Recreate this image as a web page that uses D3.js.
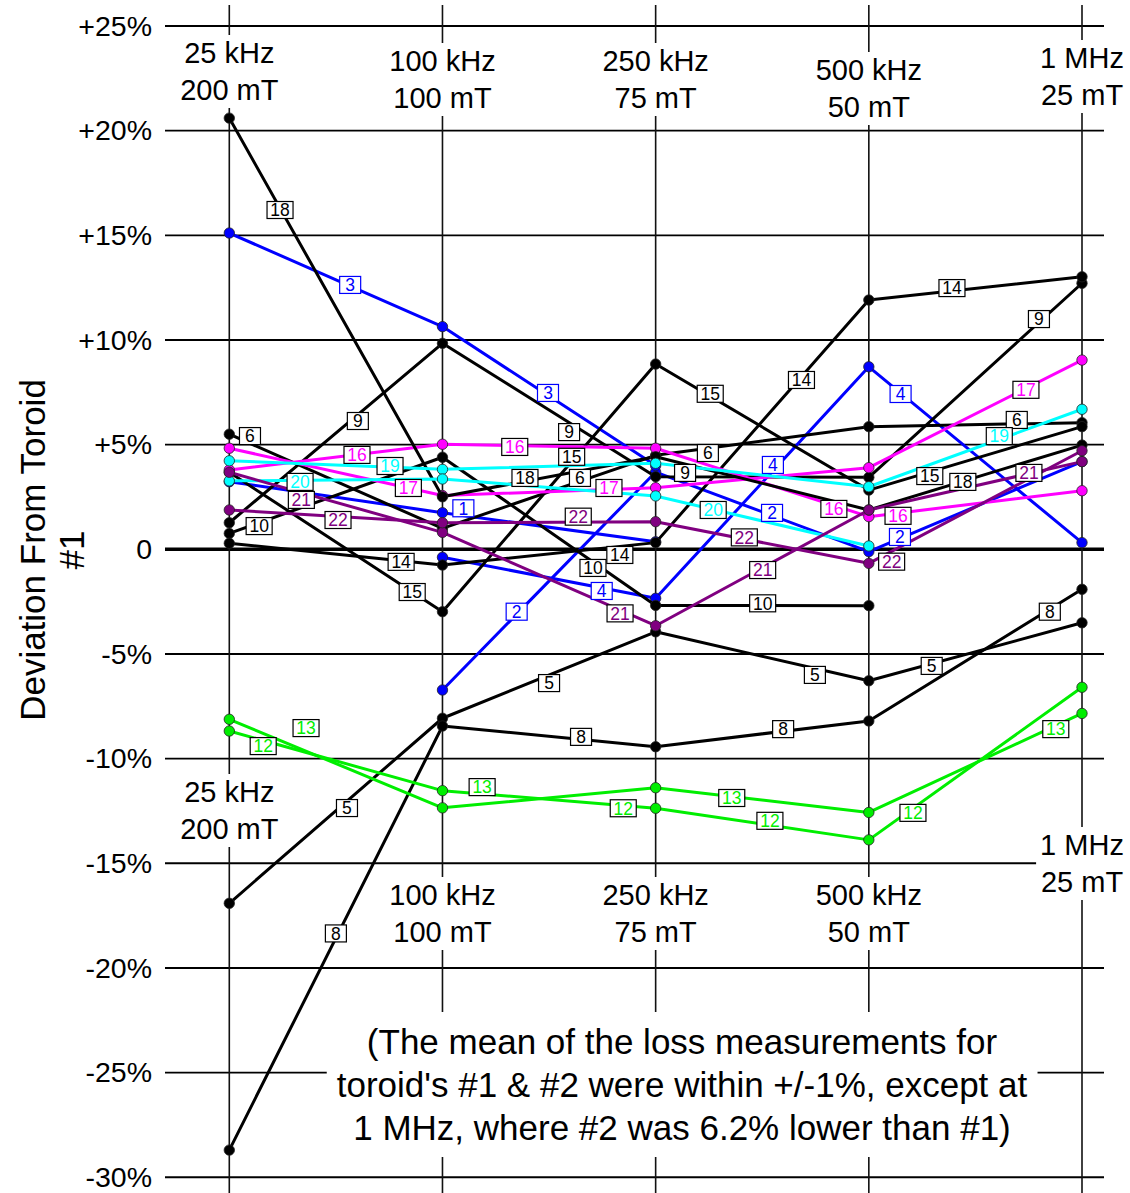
<!DOCTYPE html>
<html><head><meta charset="utf-8">
<script src="https://cdn.jsdelivr.net/npm/d3@7"></script>
<style>
body{margin:0;background:#fff}
svg{display:block}
text{font-family:"Liberation Sans",Arial,Helvetica,sans-serif}
</style>
</head><body>
<svg id="chart" width="1130" height="1193"></svg>
<script>
// ---------------- DATA ----------------
const categories = [["25 kHz","200 mT"],["100 kHz","100 mT"],["250 kHz","75 mT"],["500 kHz","50 mT"],["1 MHz","25 mT"]];
const yTickValues = [25,20,15,10,5,0,-5,-10,-15,-20,-25,-30];
const yTickLabels = ["+25%","+20%","+15%","+10%","+5%","0","-5%","-10%","-15%","-20%","-25%","-30%"];
const seriesIds = [1,2,3,4,5,6,8,9,10,12,13,14,15,16,17,18,19,20,21,22];

// deviation (%) at each of the 5 test points; null = not measured
const s1  = [3.23, 1.75, 0.36, null, null];
const s2  = [null, -6.72, 3.69, -0.11, 4.19];
const s3  = [15.11, 10.64, 4.0, null, null];
const s4  = [null, -0.38, -2.34, 8.72, 0.32];
const s5  = [-16.91, -8.07, -3.94, -6.28, -3.51];
const s6  = [5.5, 1.0, 4.49, 5.86, 6.05];
const s8  = [-28.7, -8.44, -9.43, -8.20, -1.91];
const s9  = [1.27, 9.84, 3.47, 3.44, 12.71];
const s10 = [0.76, 4.40, -2.68, -2.69, null];
const s12 = [-8.68, -11.53, -12.37, -13.88, -6.59];
const s13 = [-8.12, -12.35, -11.39, -12.57, -7.84];
const s14 = [0.29, -0.75, 0.32, 11.91, 13.02];
const s15 = [3.68, -2.98, 8.85, 2.83, 5.86];
const s16 = [3.79, 5.02, 4.83, 1.56, 2.80];
const s17 = [4.83, 2.57, 2.94, 3.90, 9.04];
const s18 = [20.6, 2.51, 4.42, 1.88, 4.98];
const s19 = [4.23, 3.82, 4.11, 2.99, 6.69];
const s20 = [3.27, 3.36, 2.55, 0.16, null];
const s21 = [3.68, 0.81, -3.65, 1.88, 4.19];
const s22 = [1.88, 1.27, 1.32, -0.67, 4.71];

// series tag anchors: [position along the test points (0..4), deviation %]
const tag1  = [[1.098,1.96]];
const tag2  = [[1.348,-2.98],[2.546,1.74],[3.146,0.59]];
const tag3  = [[0.567,12.63],[1.495,7.47]];
const tag4  = [[1.747,-1.99],[2.55,4.03],[3.149,7.42]];
const tag5  = [[0.552,-12.36],[1.5,-6.39],[2.747,-6.0],[3.295,-5.57]];
const tag6  = [[0.097,5.41],[1.645,3.41],[2.245,4.6],[3.694,6.18]];
const tag8  = [[0.50,-18.35],[1.65,-8.96],[2.598,-8.59],[3.849,-2.98]];
const tag9  = [[0.603,6.13],[1.594,5.60],[2.138,3.65],[3.798,11.0]];
const tag10 = [[0.14,1.11],[1.706,-0.89],[2.502,-2.58]];
const tag12 = [[0.159,-9.4],[1.848,-12.37],[2.536,-12.97],[3.207,-12.59]];
const tag13 = [[0.36,-8.54],[1.186,-11.36],[2.357,-11.88],[3.877,-8.59]];
const tag14 = [[0.806,-0.6],[1.832,-0.27],[2.684,8.09],[3.39,12.48]];
const tag15 = [[0.858,-2.04],[1.606,4.42],[2.256,7.43],[3.286,3.5]];
const tag16 = [[0.599,4.51],[1.339,4.89],[2.836,1.93],[3.137,1.6]];
const tag17 = [[0.84,2.93],[1.781,2.93],[3.737,7.62]];
const tag18 = [[0.238,16.21],[1.387,3.41],[3.441,3.22]];
const tag19 = [[0.754,3.98],[3.612,5.41]];
const tag20 = [[0.332,3.22],[2.27,1.88]];
const tag21 = [[0.338,2.36],[1.833,-3.06],[2.502,-0.99],[3.751,3.65]];
const tag22 = [[0.51,1.40],[1.637,1.56],[2.416,0.57],[3.107,-0.59]];

const noteLines = ["(The mean of the loss measurements for","toroid's #1 & #2 were within +/-1%, except at","1 MHz, where #2 was 6.2% lower than #1)"];
const yTitleLines = ["Deviation From Toroid","#1"];

// ---------------- STYLE / LAYOUT ----------------
const values = {1:s1,2:s2,3:s3,4:s4,5:s5,6:s6,8:s8,9:s9,10:s10,12:s12,13:s13,14:s14,15:s15,16:s16,17:s17,18:s18,19:s19,20:s20,21:s21,22:s22};
const tags = {1:tag1,2:tag2,3:tag3,4:tag4,5:tag5,6:tag6,8:tag8,9:tag9,10:tag10,12:tag12,13:tag13,14:tag14,15:tag15,16:tag16,17:tag17,18:tag18,19:tag19,20:tag20,21:tag21,22:tag22};
const colorOf = id => ([1,2,3,4].includes(id) ? "#0000ff" :
                      [12,13].includes(id) ? "#00ee00" :
                      [16,17].includes(id) ? "#ff00ff" :
                      [19,20].includes(id) ? "#00ffff" :
                      [21,22].includes(id) ? "#800080" : "#000000");
const tagBorder = id => ([1,2,3,4].includes(id) ? "#0000ff" : "#000000");

const W = 1130, H = 1193;
const svg = d3.select("#chart");
const x = d3.scaleLinear().domain([0,4]).range([229.3,1082]);
const y = d3.scaleLinear().domain([-30,25]).range([1177.3,26]);
const gridLeft = 165, gridRight = 1104;

// horizontal grid
svg.append("g").selectAll("line").data(yTickValues).join("line")
  .attr("x1",gridLeft).attr("x2",gridRight)
  .attr("y1",d=>y(d)).attr("y2",d=>y(d))
  .attr("stroke","#000").attr("stroke-width",d=>d===0?3.4:1.9);

// vertical grid
svg.append("g").selectAll("line").data(d3.range(5)).join("line")
  .attr("x1",d=>x(d)).attr("x2",d=>x(d)).attr("y1",5).attr("y2",H)
  .attr("stroke","#111").attr("stroke-width",1.6);

// y tick labels through axis
const yAxis = d3.axisLeft(y).tickValues(yTickValues)
  .tickFormat((d,i)=>yTickLabels[i]).tickSize(0).tickPadding(0);
const ya = svg.append("g").attr("transform","translate(152,0)").call(yAxis);
ya.select(".domain").remove();
ya.selectAll("text").attr("font-size",28.5).attr("fill","#000")
  .attr("font-family","'Liberation Sans',Arial,sans-serif");

// category labels (top and bottom) with white backing
const topY = [53,61,61,70,58];
const botY = [792,895,895,895,845];
const lineGap = 37;
function catLabel(i, cy){
  const g = svg.append("g");
  const r = g.append("rect").attr("fill","#fff");
  const t = g.append("text").attr("text-anchor","middle").attr("font-size",29).attr("fill","#000");
  categories[i].forEach((s,k)=>{
    t.append("tspan").attr("x",x(i)).attr("y",cy + k*lineGap + 10).text(s);
  });
  const b = t.node().getBBox();
  r.attr("x",b.x-4).attr("y",b.y-2).attr("width",b.width+8).attr("height",b.height+4);
}
categories.forEach((c,i)=>{ catLabel(i, topY[i]); catLabel(i, botY[i]); });

// note with white backing
{
  const g = svg.append("g");
  const r = g.append("rect").attr("fill","#fff");
  const t = g.append("text").attr("text-anchor","middle").attr("font-size",35).attr("fill","#000");
  noteLines.forEach((s,k)=>t.append("tspan").attr("x",682).attr("y",1042+k*43+12).text(s));
  const b = t.node().getBBox();
  r.attr("x",b.x-10).attr("y",b.y-10).attr("width",b.width+20).attr("height",b.height+20);
}

// y title
{
  const t = svg.append("text").attr("transform","translate(33,550) rotate(-90)")
    .attr("text-anchor","middle").attr("font-size",35).attr("fill","#000");
  yTitleLines.forEach((s,k)=>t.append("tspan").attr("x",0).attr("y",k*39+12).text(s));
}

// series lines + markers
const lineGen = d3.line().defined(d=>d[1]!==null).x(d=>x(d[0])).y(d=>y(d[1]));
const plot = svg.append("g");
seriesIds.forEach(id=>{
  const pts = values[id].map((v,i)=>[i,v]);
  const g = plot.append("g");
  g.append("path").datum(pts).attr("d",lineGen)
    .attr("fill","none").attr("stroke",colorOf(id)).attr("stroke-width",3)
    .attr("stroke-linejoin","round");
  g.selectAll("circle").data(pts.filter(d=>d[1]!==null)).join("circle")
    .attr("cx",d=>x(d[0])).attr("cy",d=>y(d[1])).attr("r",5.2)
    .attr("fill",colorOf(id)).attr("stroke","#222").attr("stroke-width",0.8);
});

// series tags
const tagG = svg.append("g");
seriesIds.forEach(id=>{
  tags[id].forEach(p=>{
    const g = tagG.append("g").attr("transform",`translate(${x(p[0])},${y(p[1])})`);
    const label = String(id);
    const w = label.length>1 ? 26 : 21;
    g.append("rect").attr("x",-w/2).attr("y",-8.5).attr("width",w).attr("height",17)
      .attr("fill","#fff").attr("stroke",tagBorder(id)).attr("stroke-width",1.2);
    g.append("text").attr("text-anchor","middle").attr("y",6.3).attr("font-size",17.5)
      .attr("fill",colorOf(id)).text(label);
  });
});
</script>
</body></html>
